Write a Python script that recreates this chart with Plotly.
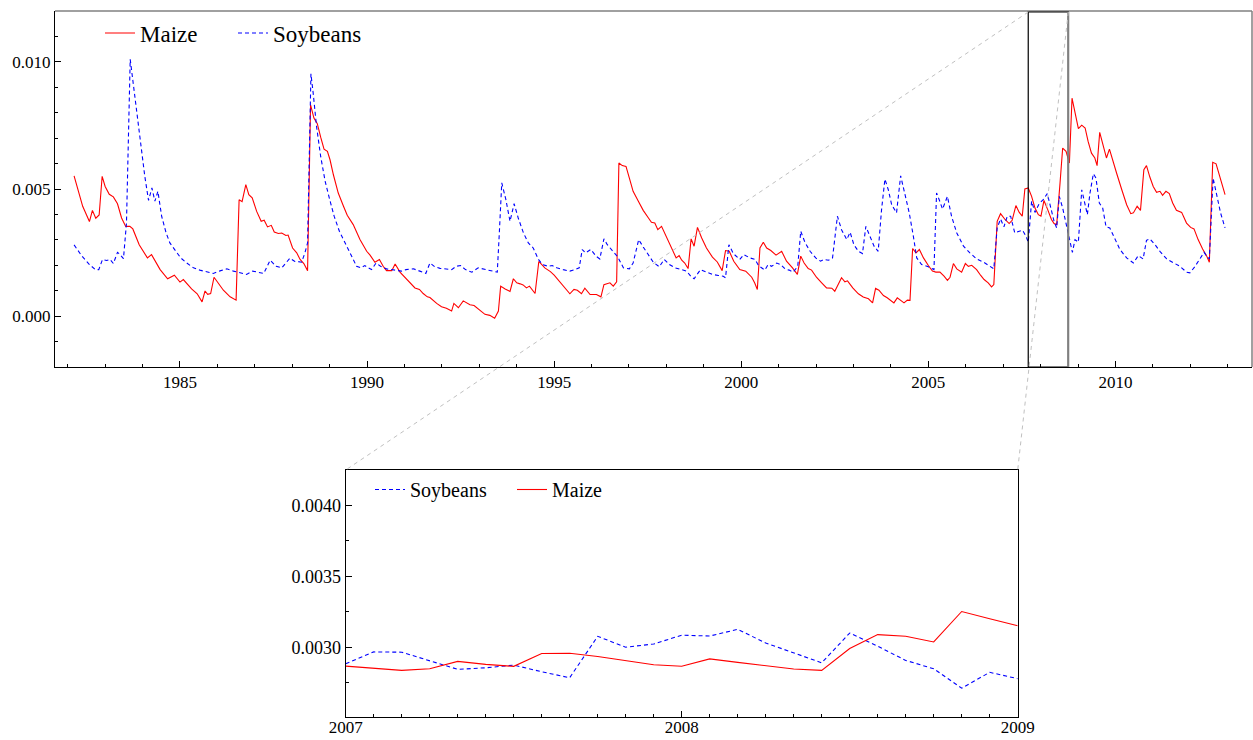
import plotly.graph_objects as go

# ---------------- data ----------------
maize_year = [
    1982.17, 1982.40, 1982.58, 1982.66, 1982.75, 1982.84, 1982.92, 1983.00, 1983.11, 1983.22,
    1983.33, 1983.44, 1983.55, 1983.66, 1983.74, 1983.91, 1984.13, 1984.24, 1984.47, 1984.67,
    1984.85, 1985.00, 1985.09, 1985.31, 1985.46, 1985.59, 1985.67, 1985.74, 1985.82, 1985.91,
    1986.16, 1986.34, 1986.50, 1986.58, 1986.66, 1986.76, 1986.84, 1986.93, 1987.05, 1987.17,
    1987.25, 1987.34, 1987.44, 1987.52, 1987.63, 1987.72, 1987.83, 1987.89, 1988.01, 1988.12,
    1988.21, 1988.31, 1988.41, 1988.49, 1988.58, 1988.67, 1988.76, 1988.85, 1988.94, 1989.01,
    1989.10, 1989.23, 1989.37, 1989.47, 1989.63, 1989.81, 1989.99, 1990.08, 1990.21, 1990.33,
    1990.43, 1990.52, 1990.66, 1990.75, 1990.88, 1991.01, 1991.17, 1991.28, 1991.40, 1991.50,
    1991.61, 1991.68, 1991.86, 1991.99, 1992.12, 1992.26, 1992.32, 1992.44, 1992.57, 1992.66,
    1992.75, 1992.86, 1992.97, 1993.15, 1993.28, 1993.41, 1993.51, 1993.57, 1993.69, 1993.82,
    1993.91, 1994.00, 1994.09, 1994.17, 1994.26, 1994.34, 1994.49, 1994.59, 1994.75, 1994.90,
    1995.00, 1995.14, 1995.29, 1995.42, 1995.53, 1995.62, 1995.73, 1995.82, 1995.96, 1996.13,
    1996.25, 1996.33, 1996.49, 1996.58, 1996.67, 1996.73, 1996.82, 1996.92, 1997.01, 1997.11,
    1997.25, 1997.38, 1997.52, 1997.60, 1997.69, 1997.77, 1997.87, 1998.01, 1998.14, 1998.26,
    1998.34, 1998.41, 1998.49, 1998.58, 1998.66, 1998.74, 1998.83, 1998.94, 1999.07, 1999.23,
    1999.36, 1999.49, 1999.58, 1999.68, 1999.80, 1999.96, 2000.12, 2000.28, 2000.36, 2000.43,
    2000.50, 2000.59, 2000.68, 2000.79, 2000.93, 2001.08, 2001.21, 2001.37, 2001.50, 2001.59,
    2001.68, 2001.79, 2001.88, 2002.01, 2002.15, 2002.28, 2002.42, 2002.50, 2002.59, 2002.68,
    2002.77, 2002.84, 2002.98, 2003.13, 2003.26, 2003.40, 2003.51, 2003.59, 2003.68, 2003.80,
    2003.90, 2003.99, 2004.08, 2004.17, 2004.24, 2004.35, 2004.44, 2004.51, 2004.58, 2004.67,
    2004.76, 2004.87, 2005.00, 2005.11, 2005.20, 2005.31, 2005.42, 2005.51, 2005.58, 2005.67,
    2005.76, 2005.89, 2005.99, 2006.07, 2006.16, 2006.29, 2006.40, 2006.49, 2006.60, 2006.69,
    2006.75, 2006.84, 2006.93, 2007.05, 2007.16, 2007.24, 2007.34, 2007.43, 2007.51, 2007.58,
    2007.67, 2007.76, 2007.85, 2007.94, 2008.01, 2008.09, 2008.19, 2008.29, 2008.36, 2008.43,
    2008.52, 2008.59, 2008.68, 2008.77, 2008.84, 2008.92, 2009.01, 2009.10, 2009.19, 2009.27,
    2009.36, 2009.45, 2009.51, 2009.58, 2009.67, 2009.76, 2009.84, 2009.93, 2010.03, 2010.17,
    2010.30, 2010.41, 2010.48, 2010.58, 2010.67, 2010.76, 2010.83, 2010.92, 2011.01, 2011.10,
    2011.19, 2011.26, 2011.35, 2011.44, 2011.53, 2011.63, 2011.77, 2011.90, 2012.01, 2012.10,
    2012.21, 2012.33, 2012.44, 2012.51, 2012.60, 2012.69, 2012.79, 2012.93,
]
maize_val = [
    0.00552, 0.00432, 0.00372, 0.00416, 0.00385, 0.00398, 0.00550, 0.00510, 0.00479, 0.00469,
    0.00442, 0.00386, 0.00353, 0.00353, 0.00343, 0.00281, 0.00229, 0.00242, 0.00183, 0.00147,
    0.00161, 0.00134, 0.00144, 0.00107, 0.00088, 0.00056, 0.00099, 0.00086, 0.00089, 0.00153,
    0.00102, 0.00076, 0.00063, 0.00458, 0.00450, 0.00517, 0.00478, 0.00465, 0.00412, 0.00373,
    0.00377, 0.00351, 0.00357, 0.00331, 0.00325, 0.00327, 0.00317, 0.00319, 0.00268, 0.00249,
    0.00223, 0.00207, 0.00179, 0.00831, 0.00779, 0.00757, 0.00704, 0.00657, 0.00648, 0.00615,
    0.00556, 0.00484, 0.00432, 0.00397, 0.00360, 0.00301, 0.00255, 0.00240, 0.00212, 0.00223,
    0.00196, 0.00179, 0.00179, 0.00205, 0.00173, 0.00154, 0.00131, 0.00111, 0.00105, 0.00089,
    0.00076, 0.00073, 0.00050, 0.00037, 0.00031, 0.00020, 0.00050, 0.00033, 0.00060, 0.00052,
    0.00045, 0.00042, 0.00029, 0.00007, 0.00003, -0.00008, 0.00020, 0.00118, 0.00107, 0.00097,
    0.00147, 0.00131, 0.00127, 0.00123, 0.00111, 0.00118, 0.00089, 0.00215, 0.00190, 0.00175,
    0.00161, 0.00137, 0.00111, 0.00088, 0.00105, 0.00102, 0.00088, 0.00110, 0.00085, 0.00085,
    0.00076, 0.00124, 0.00131, 0.00118, 0.00135, 0.00602, 0.00592, 0.00589, 0.00543, 0.00491,
    0.00452, 0.00416, 0.00386, 0.00369, 0.00366, 0.00340, 0.00353, 0.00308, 0.00262, 0.00229,
    0.00238, 0.00220, 0.00209, 0.00187, 0.00304, 0.00275, 0.00349, 0.00308, 0.00268, 0.00232,
    0.00213, 0.00179, 0.00258, 0.00255, 0.00216, 0.00183, 0.00177, 0.00153, 0.00130, 0.00105,
    0.00268, 0.00291, 0.00268, 0.00258, 0.00240, 0.00255, 0.00216, 0.00190, 0.00164, 0.00236,
    0.00209, 0.00187, 0.00181, 0.00153, 0.00131, 0.00111, 0.00110, 0.00098, 0.00124, 0.00151,
    0.00135, 0.00139, 0.00111, 0.00088, 0.00075, 0.00068, 0.00052, 0.00109, 0.00102, 0.00081,
    0.00072, 0.00063, 0.00052, 0.00072, 0.00065, 0.00052, 0.00063, 0.00062, 0.00266, 0.00249,
    0.00262, 0.00229, 0.00199, 0.00177, 0.00173, 0.00173, 0.00157, 0.00141, 0.00153, 0.00207,
    0.00186, 0.00173, 0.00207, 0.00196, 0.00200, 0.00183, 0.00160, 0.00144, 0.00131, 0.00115,
    0.00124, 0.00373, 0.00403, 0.00380, 0.00364, 0.00377, 0.00435, 0.00408, 0.00393, 0.00500,
    0.00504, 0.00471, 0.00425, 0.00399, 0.00393, 0.00455, 0.00419, 0.00380, 0.00364, 0.00360,
    0.00524, 0.00661, 0.00648, 0.00602, 0.00857, 0.00798, 0.00737, 0.00751, 0.00740, 0.00687,
    0.00641, 0.00622, 0.00592, 0.00723, 0.00668, 0.00622, 0.00657, 0.00609, 0.00563, 0.00497,
    0.00438, 0.00403, 0.00406, 0.00432, 0.00416, 0.00576, 0.00592, 0.00547, 0.00510, 0.00487,
    0.00491, 0.00475, 0.00491, 0.00482, 0.00445, 0.00416, 0.00408, 0.00366, 0.00349, 0.00343,
    0.00301, 0.00264, 0.00236, 0.00212, 0.00605, 0.00599, 0.00550, 0.00478,
]

soy_year = [
    1982.17, 1982.37, 1982.58, 1982.74, 1982.83, 1982.93, 1983.04, 1983.13, 1983.22, 1983.33,
    1983.40, 1983.49, 1983.57, 1983.67, 1983.75, 1983.86, 1983.98, 1984.06, 1984.16, 1984.25,
    1984.33, 1984.41, 1984.51, 1984.63, 1984.73, 1984.87, 1985.02, 1985.18, 1985.36, 1985.53,
    1985.71, 1985.89, 1986.07, 1986.25, 1986.43, 1986.60, 1986.78, 1986.94, 1987.09, 1987.24,
    1987.41, 1987.57, 1987.72, 1987.83, 1987.94, 1988.07, 1988.14, 1988.25, 1988.34, 1988.41,
    1988.45, 1988.50, 1988.56, 1988.65, 1988.76, 1988.88, 1988.99, 1989.12, 1989.26, 1989.39,
    1989.53, 1989.63, 1989.72, 1989.83, 1989.94, 1990.03, 1990.12, 1990.24, 1990.36, 1990.52,
    1990.66, 1990.79, 1990.92, 1991.04, 1991.24, 1991.41, 1991.57, 1991.68, 1991.81, 1991.95,
    1992.12, 1992.26, 1992.38, 1992.50, 1992.63, 1992.80, 1992.97, 1993.15, 1993.33, 1993.48,
    1993.53, 1993.60, 1993.71, 1993.82, 1993.93, 1994.04, 1994.18, 1994.31, 1994.44, 1994.58,
    1994.69, 1994.84, 1994.95, 1995.07, 1995.24, 1995.42, 1995.56, 1995.67, 1995.75, 1995.84,
    1995.98, 1996.12, 1996.22, 1996.33, 1996.42, 1996.56, 1996.70, 1996.85, 1997.01, 1997.11,
    1997.26, 1997.38, 1997.52, 1997.65, 1997.81, 1997.94, 1998.08, 1998.23, 1998.41, 1998.54,
    1998.65, 1998.74, 1998.91, 1999.07, 1999.23, 1999.39, 1999.52, 1999.58, 1999.67, 1999.79,
    1999.96, 2000.07, 2000.23, 2000.37, 2000.46, 2000.63, 2000.72, 2000.81, 2000.95, 2001.05,
    2001.17, 2001.28, 2001.39, 2001.51, 2001.59, 2001.70, 2001.84, 2001.99, 2002.12, 2002.21,
    2002.33, 2002.44, 2002.57, 2002.68, 2002.82, 2002.91, 2003.01, 2003.13, 2003.24, 2003.33,
    2003.44, 2003.55, 2003.66, 2003.75, 2003.84, 2003.93, 2004.02, 2004.15, 2004.26, 2004.38,
    2004.49, 2004.60, 2004.69, 2004.82, 2005.00, 2005.15, 2005.22, 2005.29, 2005.38, 2005.51,
    2005.62, 2005.76, 2005.94, 2006.11, 2006.29, 2006.49, 2006.65, 2006.75, 2006.84, 2006.93,
    2007.02, 2007.11, 2007.20, 2007.31, 2007.43, 2007.52, 2007.61, 2007.67, 2007.76, 2007.85,
    2007.96, 2008.07, 2008.18, 2008.27, 2008.36, 2008.43, 2008.50, 2008.59, 2008.68, 2008.77,
    2008.85, 2008.92, 2009.01, 2009.10, 2009.19, 2009.25, 2009.32, 2009.41, 2009.48, 2009.57,
    2009.66, 2009.75, 2009.85, 2009.99, 2010.12, 2010.30, 2010.48, 2010.61, 2010.74, 2010.83,
    2010.92, 2011.06, 2011.19, 2011.37, 2011.55, 2011.72, 2011.90, 2011.99, 2012.12, 2012.26,
    2012.37, 2012.44, 2012.51, 2012.61, 2012.72, 2012.81, 2012.93,
]
soy_val = [
    0.00280, 0.00238, 0.00203, 0.00183, 0.00183, 0.00223, 0.00219, 0.00223, 0.00207, 0.00251,
    0.00242, 0.00226, 0.00366, 0.01010, 0.00916, 0.00785, 0.00654, 0.00550, 0.00455, 0.00504,
    0.00452, 0.00491, 0.00393, 0.00327, 0.00288, 0.00258, 0.00229, 0.00209, 0.00190, 0.00181,
    0.00173, 0.00168, 0.00178, 0.00186, 0.00177, 0.00170, 0.00164, 0.00177, 0.00173, 0.00168,
    0.00220, 0.00196, 0.00190, 0.00209, 0.00228, 0.00215, 0.00215, 0.00212, 0.00249, 0.00288,
    0.00550, 0.00953, 0.00877, 0.00746, 0.00628, 0.00530, 0.00465, 0.00393, 0.00334, 0.00295,
    0.00255, 0.00223, 0.00196, 0.00190, 0.00199, 0.00190, 0.00183, 0.00209, 0.00196, 0.00186,
    0.00183, 0.00181, 0.00177, 0.00183, 0.00186, 0.00177, 0.00168, 0.00209, 0.00194, 0.00188,
    0.00186, 0.00183, 0.00196, 0.00199, 0.00183, 0.00173, 0.00190, 0.00183, 0.00178, 0.00173,
    0.00314, 0.00524, 0.00458, 0.00373, 0.00442, 0.00386, 0.00327, 0.00288, 0.00268, 0.00223,
    0.00203, 0.00196, 0.00199, 0.00190, 0.00183, 0.00177, 0.00183, 0.00190, 0.00262, 0.00249,
    0.00262, 0.00236, 0.00225, 0.00304, 0.00281, 0.00259, 0.00233, 0.00190, 0.00186, 0.00209,
    0.00301, 0.00272, 0.00238, 0.00212, 0.00194, 0.00223, 0.00203, 0.00190, 0.00183, 0.00177,
    0.00157, 0.00147, 0.00183, 0.00173, 0.00164, 0.00160, 0.00157, 0.00151, 0.00281, 0.00246,
    0.00223, 0.00242, 0.00229, 0.00223, 0.00199, 0.00181, 0.00203, 0.00196, 0.00209, 0.00203,
    0.00186, 0.00181, 0.00173, 0.00196, 0.00334, 0.00291, 0.00255, 0.00229, 0.00216, 0.00223,
    0.00220, 0.00229, 0.00393, 0.00340, 0.00301, 0.00330, 0.00281, 0.00255, 0.00246, 0.00353,
    0.00314, 0.00275, 0.00255, 0.00419, 0.00539, 0.00497, 0.00438, 0.00406, 0.00552, 0.00471,
    0.00406, 0.00314, 0.00229, 0.00203, 0.00194, 0.00183, 0.00484, 0.00458, 0.00421, 0.00471,
    0.00393, 0.00327, 0.00275, 0.00249, 0.00225, 0.00211, 0.00196, 0.00186, 0.00347, 0.00382,
    0.00351, 0.00393, 0.00393, 0.00327, 0.00334, 0.00338, 0.00314, 0.00291, 0.00452, 0.00408,
    0.00442, 0.00458, 0.00482, 0.00425, 0.00373, 0.00347, 0.00471, 0.00425, 0.00366, 0.00314,
    0.00251, 0.00301, 0.00291, 0.00497, 0.00432, 0.00399, 0.00484, 0.00560, 0.00543, 0.00445,
    0.00425, 0.00351, 0.00347, 0.00301, 0.00262, 0.00229, 0.00209, 0.00238, 0.00225, 0.00298,
    0.00304, 0.00281, 0.00255, 0.00225, 0.00209, 0.00196, 0.00173, 0.00170, 0.00194, 0.00225,
    0.00251, 0.00236, 0.00225, 0.00543, 0.00471, 0.00406, 0.00347,
]

# inset: monthly values, Jan 2007 .. Jan 2009 (month index from Jan 2007)
inset_month = list(range(25))
inset_soy = [
    0.002883, 0.002967, 0.002965, 0.002902, 0.002844, 0.002855, 0.002874, 0.002827, 0.002785,
    0.003077, 0.003000, 0.003023, 0.003085, 0.003079, 0.003126, 0.003030, 0.002960, 0.002890,
    0.003100, 0.003007, 0.002907, 0.002848, 0.002711, 0.002823, 0.002778,
]
inset_maize = [
    0.002867, 0.002851, 0.002837, 0.002848, 0.002900, 0.002879, 0.002865, 0.002956, 0.002958,
    0.002935, 0.002904, 0.002876, 0.002866, 0.002918, 0.002893, 0.002867, 0.002846, 0.002837,
    0.002991, 0.003089, 0.003077, 0.003037, 0.003252, 0.003201, 0.003152,
]
inset_x = [2007 + m / 12 for m in inset_month]

# ---------------- layout constants ----------------
W, H = 1253, 740
MAIN_X = [1981.66, 2013.65]
MAIN_Y = [-0.002, 0.012]
INSET_X = [2007, 2009]
INSET_Y = [0.00251, 0.00425]
ZOOM_X = [2007.67, 2008.74]

main_dx = [55 / W, 1252 / W]
main_dy = [1 - 367 / H, 1 - 11 / H]
ins_dx = [345.7 / W, 1017.7 / W]
ins_dy = [1 - 716.7 / H, 1 - 470 / H]

FONT = "Liberation Serif, Times New Roman, serif"
RED = "#ff0000"
BLUE = "#0000ff"
DASH = "4px,3px"

fig = go.Figure()
fig.add_trace(go.Scatter(x=maize_year, y=maize_val, mode="lines", name="Maize",
                         line=dict(color=RED, width=1.1), xaxis="x", yaxis="y", legend="legend"))
fig.add_trace(go.Scatter(x=soy_year, y=soy_val, mode="lines", name="Soybeans",
                         line=dict(color=BLUE, width=1.1, dash=DASH), xaxis="x", yaxis="y",
                         legend="legend"))
fig.add_trace(go.Scatter(x=inset_x, y=inset_soy, mode="lines", name="Soybeans",
                         line=dict(color=BLUE, width=1.1, dash=DASH), xaxis="x2", yaxis="y2",
                         legend="legend2"))
fig.add_trace(go.Scatter(x=inset_x, y=inset_maize, mode="lines", name="Maize",
                         line=dict(color=RED, width=1.1), xaxis="x2", yaxis="y2",
                         legend="legend2"))

base_axis = dict(ticks="inside", tickcolor="black", showgrid=False, zeroline=False,
                 showline=True, linecolor="black", linewidth=1, automargin=False)

fig.update_layout(
    width=W, height=H,
    margin=dict(l=0, r=0, t=0, b=0, pad=0, autoexpand=False),
    paper_bgcolor="white", plot_bgcolor="rgba(0,0,0,0)",
    font=dict(family=FONT, color="black"),
    xaxis=dict(domain=main_dx, range=MAIN_X, anchor="y", tick0=1985, dtick=5, ticklen=6,
               tickformat="d", tickfont=dict(family=FONT, size=17, color="black"),
               minor=dict(dtick=1, tick0=1985, ticklen=3, ticks="inside", tickcolor="black",
                          showgrid=False),
               **base_axis),
    yaxis=dict(domain=main_dy, range=MAIN_Y, anchor="x", tick0=0, dtick=0.005, ticklen=6,
               tickformat=".3f", tickfont=dict(family=FONT, size=17, color="black"),
               minor=dict(dtick=0.001, tick0=0, ticklen=3, ticks="inside", tickcolor="black",
                          showgrid=False),
               **base_axis),
    xaxis2=dict(domain=ins_dx, range=INSET_X, anchor="y2", tick0=2007, dtick=1, ticklen=6,
                tickformat="d", mirror=True, ticklabelstandoff=-5,
                tickfont=dict(family=FONT, size=17, color="black"),
                minor=dict(dtick=1 / 12, tick0=2007, ticklen=3, ticks="inside",
                           tickcolor="black", showgrid=False),
                **base_axis),
    yaxis2=dict(domain=ins_dy, range=INSET_Y, anchor="x2", tick0=0.003, dtick=0.0005,
                ticklen=6, tickformat=".4f", mirror=True,
                tickfont=dict(family=FONT, size=18, color="black"),
                minor=dict(dtick=0.00025, tick0=0.003, ticklen=3, ticks="inside",
                           tickcolor="black", showgrid=False),
                **base_axis),
    legend=dict(orientation="h", x=100 / W, xanchor="left", y=1 - 33 / H, yanchor="middle",
                font=dict(family=FONT, size=23, color="black"), bgcolor="rgba(0,0,0,0)",
                borderwidth=0, entrywidth=88, traceorder="normal"),
    legend2=dict(orientation="h", x=370 / W, xanchor="left", y=1 - 489.5 / H,
                 yanchor="middle", font=dict(family=FONT, size=20, color="black"),
                 bgcolor="rgba(0,0,0,0)", borderwidth=0, entrywidth=97,
                 traceorder="normal"),
    showlegend=True,
)


def to_paper_x(xv):
    return main_dx[0] + (xv - MAIN_X[0]) / (MAIN_X[1] - MAIN_X[0]) * (main_dx[1] - main_dx[0])


shapes = []
# top / right frame of the main panel (grey)
shapes.append(dict(type="line", xref="paper", yref="paper", x0=main_dx[0], x1=main_dx[1],
                   y0=main_dy[1], y1=main_dy[1], line=dict(color="#808080", width=1.5)))
shapes.append(dict(type="line", xref="paper", yref="paper", x0=main_dx[1], x1=main_dx[1],
                   y0=main_dy[0], y1=main_dy[1], line=dict(color="#808080", width=1.5)))
# zoom window
shapes.append(dict(type="rect", xref="x", yref="paper", x0=ZOOM_X[0], x1=ZOOM_X[1],
                   y0=main_dy[0], y1=main_dy[1] - 1 / H, line=dict(color="black", width=1.2)))
shapes.append(dict(type="line", xref="x", yref="paper", x0=ZOOM_X[1], x1=ZOOM_X[1],
                   y0=main_dy[0], y1=main_dy[1] - 1 / H, line=dict(color="#808080", width=2)))
# connectors to inset
shapes.append(dict(type="line", xref="paper", yref="paper", x0=to_paper_x(ZOOM_X[0]),
                   y0=main_dy[1] - 1 / H, x1=ins_dx[0], y1=ins_dy[1],
                   line=dict(color="#c0c0c0", width=1, dash="4px,4px")))
shapes.append(dict(type="line", xref="paper", yref="paper", x0=to_paper_x(ZOOM_X[1]),
                   y0=main_dy[1] - 1 / H, x1=ins_dx[1], y1=ins_dy[1],
                   line=dict(color="#c0c0c0", width=1, dash="4px,4px")))
fig.update_layout(shapes=shapes)

fig.write_html("out.html")
